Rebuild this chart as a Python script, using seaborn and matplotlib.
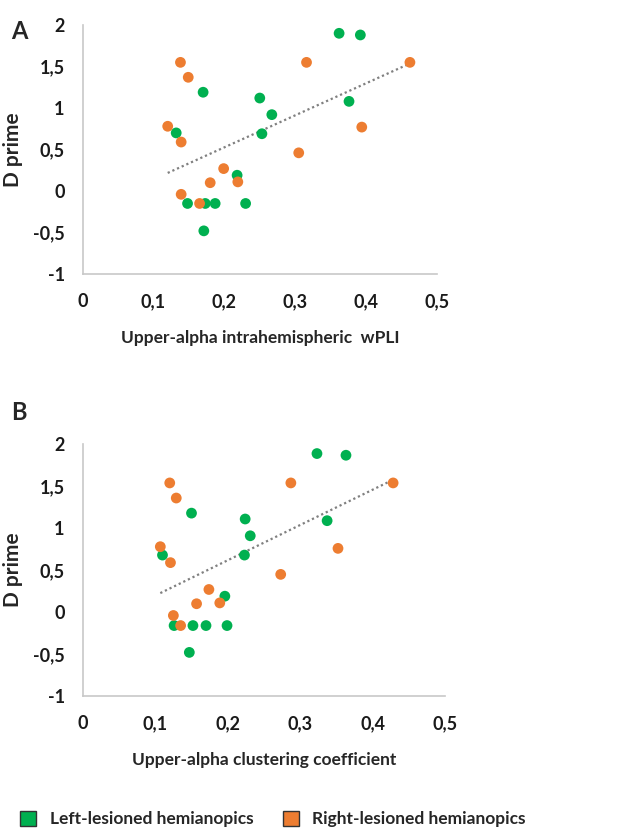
import numpy as np
import pandas as pd
import matplotlib.pyplot as plt
import seaborn as sns
from matplotlib.patches import Patch
from matplotlib.ticker import FuncFormatter

# ==========================
# Data
# ==========================
groups = ['Left-lesioned hemianopics', 'Right-lesioned hemianopics']

# Panel A: upper-alpha intrahemispheric wPLI
a_left_x = [0.362, 0.392, 0.170, 0.250, 0.267, 0.253, 0.376, 0.132, 0.218,
            0.148, 0.173, 0.187, 0.230, 0.171]
a_left_y = [1.90, 1.88, 1.19, 1.12, 0.92, 0.69, 1.08, 0.70, 0.19,
            -0.15, -0.15, -0.15, -0.15, -0.48]
a_right_x = [0.138, 0.149, 0.316, 0.462, 0.120, 0.139, 0.394, 0.305, 0.199,
             0.180, 0.219, 0.139, 0.165]
a_right_y = [1.55, 1.37, 1.55, 1.55, 0.78, 0.59, 0.77, 0.46, 0.27,
             0.10, 0.11, -0.04, -0.15]

# Panel B: upper-alpha clustering coefficient
b_left_x = [0.323, 0.363, 0.150, 0.224, 0.231, 0.223, 0.337, 0.110, 0.196,
            0.126, 0.152, 0.170, 0.199, 0.147]
b_left_y = [1.89, 1.87, 1.18, 1.11, 0.91, 0.68, 1.09, 0.68, 0.19,
            -0.16, -0.16, -0.16, -0.16, -0.48]
b_right_x = [0.120, 0.129, 0.287, 0.428, 0.107, 0.121, 0.352, 0.273, 0.174,
             0.157, 0.189, 0.125, 0.135]
b_right_y = [1.54, 1.36, 1.54, 1.54, 0.78, 0.59, 0.76, 0.45, 0.27,
             0.10, 0.11, -0.04, -0.16]

x_ticks = [0, 0.1, 0.2, 0.3, 0.4, 0.5]
y_ticks = [-1, -0.5, 0, 0.5, 1, 1.5, 2]

palette = {groups[0]: '#00B050', groups[1]: '#ED7D31'}


def make_df(lx, ly, rx, ry):
    return pd.DataFrame({
        'x': lx + rx,
        'y': ly + ry,
        'group': [groups[0]] * len(lx) + [groups[1]] * len(rx),
    })


df_a = make_df(a_left_x, a_left_y, a_right_x, a_right_y)
df_b = make_df(b_left_x, b_left_y, b_right_x, b_right_y)

# ==========================
# Plot
# ==========================
sns.set_style('white')
plt.rcParams['font.family'] = ['Lato', 'DejaVu Sans']

fig = plt.figure(figsize=(6.29, 8.39), dpi=100)
ax_a = fig.add_axes([0.1315, 0.6734, 0.563, 0.2968])
ax_b = fig.add_axes([0.1315, 0.1704, 0.5765, 0.300])

comma = FuncFormatter(lambda v, p: ('%g' % v).replace('.', ','))


def draw(ax, df, xlabel):
    sns.regplot(data=df, x='x', y='y', scatter=False, ci=None, ax=ax,
                line_kws=dict(color='#808080', linestyle=(0, (1, 1.3)), linewidth=1.6))
    sns.scatterplot(data=df, x='x', y='y', hue='group', palette=palette,
                    s=60, edgecolor='none', legend=False, ax=ax, zorder=3)
    ax.set_xlim(0, 0.5)
    ax.set_ylim(-1, 2)
    ax.set_xticks(x_ticks)
    ax.set_yticks(y_ticks)
    ax.xaxis.set_major_formatter(comma)
    ax.yaxis.set_major_formatter(comma)
    ax.tick_params(length=0, labelsize=13, colors='#1a1a1a')
    ax.tick_params(axis='x', pad=14)
    ax.tick_params(axis='y', pad=13)
    for lab in ax.get_xticklabels() + ax.get_yticklabels():
        lab.set_fontweight('bold')
    for side in ['top', 'right']:
        ax.spines[side].set_visible(False)
    for side in ['left', 'bottom']:
        ax.spines[side].set_color('#c8c8c8')
        ax.spines[side].set_linewidth(1.2)
    ax.set_xlabel(xlabel, fontsize=12.5, fontweight='bold', labelpad=14)
    ax.set_ylabel('D prime', fontsize=15, fontweight='bold')
    # right edge of the rotated label sits ~23 px from the figure edge
    ax.yaxis.set_label_coords(-59.7 / (ax.get_position().width * 629), 0.5)


draw(ax_a, df_a, 'Upper-alpha intrahemispheric  wPLI')
draw(ax_b, df_b, 'Upper-alpha clustering coefficient')

fig.text(0.018, 0.963, 'A', fontsize=17, fontweight='bold', va='center')
fig.text(0.018, 0.508, 'B', fontsize=17, fontweight='bold', va='center')

handles = [Patch(facecolor=palette[g], edgecolor='#333333', linewidth=1, label=g)
           for g in groups]
fig.legend(handles=handles, loc='center left', bbox_to_anchor=(0.018, 0.024), ncol=2,
           frameon=False, handlelength=0.95, handleheight=0.95, borderpad=0,
           handletextpad=0.75, columnspacing=1.7, prop={'weight': 'bold', 'size': 12.5})

fig.savefig('out.png', dpi=100)
